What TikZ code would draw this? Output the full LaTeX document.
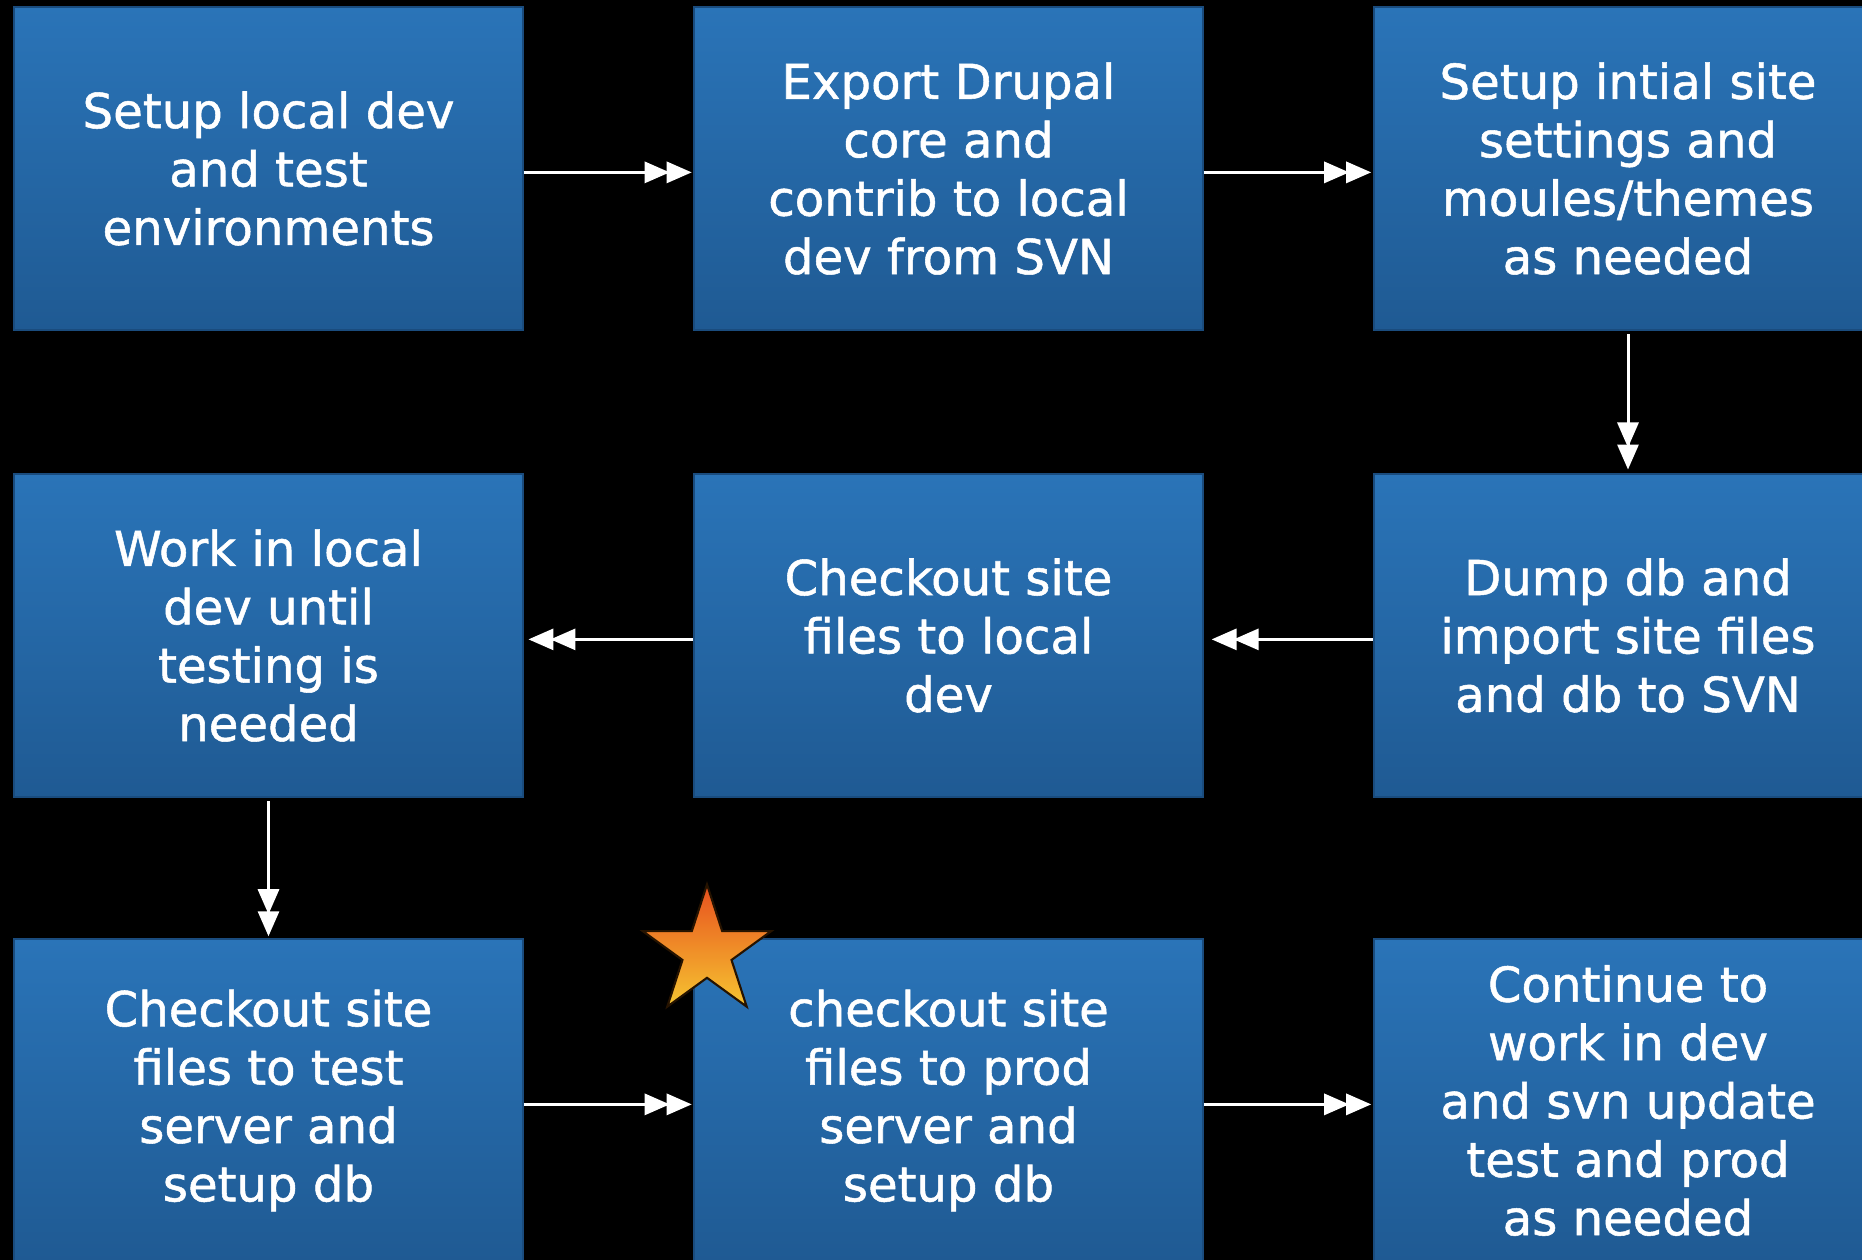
\documentclass[tikz,border=0pt]{standalone}
\usepackage{fontspec}
\setmainfont{DejaVu Sans}
\newfontfamily\boxfont{DejaVu Sans}[FakeBold=1.1]
\usepackage{tikz}
\usetikzlibrary{arrows.meta,shapes.geometric}
\definecolor{boxtop}{HTML}{2A74B8}
\definecolor{boxbot}{HTML}{1F5A93}
\definecolor{boxline}{HTML}{1A4C7E}
\definecolor{startop}{HTML}{E8501E}
\definecolor{starmid}{HTML}{F39A2A}
\definecolor{starbot}{HTML}{F6C531}
\tikzset{
	stepbox/.style={draw=boxline,line width=0.5pt,top color=boxtop,bottom color=boxbot,
		minimum width=5.08cm,minimum height=3.23cm,inner sep=0pt,align=center,text=white,
		font=\boxfont\fontsize{13.7}{16.6}\selectfont},
	link/.style={draw=white,line width=0.85pt,
		-{Triangle[length=2.5mm,width=2.1mm,sep=-0.3mm]Triangle[length=2.5mm,width=2.1mm]}},
	lower/.style={transform canvas={yshift=-1.1pt}}
}

\begin{document}
\begin{tikzpicture}[x=0.01cm,y=-0.01cm]
	\useasboundingbox (0,0) rectangle (1862,1260);
	\clip (0,0) rectangle (1862,1260);
	\fill[black] (0,0) rectangle (1862,1260);
	% first row
	\node[stepbox] (setup) at (268.5,168.5) {Setup local dev\\and test\\environments};
	\node[stepbox] (export) at (948.5,168.5) {Export Drupal\\core and\\contrib to local\\dev from SVN};
	\node[stepbox] (settings) at (1628,168.5) {Setup intial site\\settings and\\moules/themes\\as needed};
	% second row
	\node[stepbox] (work) at (268.5,635.5) {Work in local\\dev until\\testing is\\needed};
	\node[stepbox] (checkout) at (948.5,635.5) {Checkout site\\files to local\\dev};
	\node[stepbox] (dump) at (1628,635.5) {Dump db and\\import site files\\and db to SVN};
	% third row
	\node[stepbox] (testsrv) at (268.5,1100.5) {Checkout site\\files to test\\server and\\setup db};
	\node[stepbox] (prodsrv) at (948.5,1100.5) {checkout site\\files to prod\\server and\\setup db};
	\node[stepbox] (continue) at (1628,1100.5) {Continue to\\work in dev\\and svn update\\test and prod\\as needed};
	\node[star,star points=5,star point ratio=2.618,minimum size=1.35cm,inner sep=0pt,
		draw=black!85!orange,line width=0.6pt,top color=startop,middle color=starmid,
		bottom color=starbot] (mark) at (707,952) {};
	% connectors
	\draw[link,lower,shorten >=0.5pt] (setup.east) -- (export.west);
	\draw[link,lower,shorten >=0.5pt] (export.east) -- (settings.west);
	\draw[link,shorten <=1pt,shorten >=1pt] (settings.south) -- (dump.north);
	\draw[link,lower,shorten >=2.3pt] (dump.west) -- (checkout.east);
	\draw[link,lower,shorten >=1.4pt] (checkout.west) -- (work.east);
	\draw[link,shorten <=1pt,shorten >=0.5pt] (work.south) -- (testsrv.north);
	\draw[link,lower,shorten >=0.5pt] (testsrv.east) -- (prodsrv.west);
	\draw[link,lower,shorten >=0.5pt] (prodsrv.east) -- (continue.west);
\end{tikzpicture}
\end{document}
